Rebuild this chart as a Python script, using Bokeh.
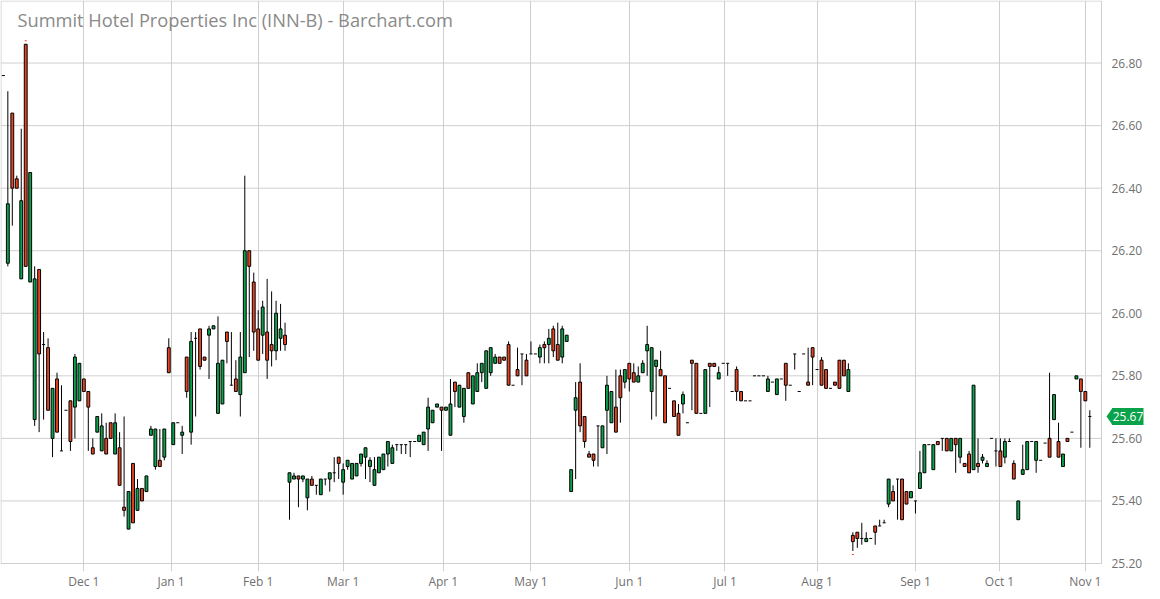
from bokeh.plotting import figure
from bokeh.models import Range1d, FixedTicker, CustomJSTickFormatter, Label, ColumnDataSource
from bokeh.core.properties import value
from bokeh.embed import file_html
from bokeh.resources import INLINE

title_text = "Summit Hotel Properties Inc (INN-B) - Barchart.com"

opens = [26.76, 26.16, 26.64, 26.43, 26.11, 26.86, 26.10, 25.66, 26.14, 25.90,
         25.89, 25.60, 25.79, 25.56, 25.69, 25.72, 25.70, 25.72, 25.79, 25.75,
         25.57, 25.62, 25.56, 25.60, 25.65, 25.55, 25.57, 25.38, 25.31, 25.52,
         25.37, 25.44, 25.43, 25.61, 25.51, 25.53, 25.54, 25.89, 25.58, 25.65,
         25.61, 25.86, 25.62, 25.92, 25.95, 25.86, 25.93, 25.95, 25.68, 25.71,
         25.94, 25.77, 25.79, 25.74, 25.81, 26.20, 26.10, 25.95, 25.93, 25.94,
         25.90, 25.88, 25.92, 25.93, 25.46, 25.47, 25.48, 25.47, 25.41, 25.47,
         25.45, 25.42, 25.47, 25.47, 25.49, 25.54, 25.46, 25.51, 25.47, 25.48,
         25.52, 25.54, 25.51, 25.45, 25.49, 25.50, 25.55, 25.52, 25.58, 25.58,
         25.58, 25.59, 25.59, 25.59, 25.58, 25.63, 25.65, 25.70, 25.70, 25.69,
         25.61, 25.78, 25.70, 25.67, 25.81, 25.71, 25.75, 25.81, 25.76, 25.81,
         25.84, 25.86, 25.86, 25.90, 25.77, 25.82, 25.87, 25.85, 25.87, 25.87,
         25.86, 25.90, 25.90, 25.95, 25.90, 25.86, 25.91, 25.43, 25.69, 25.78,
         25.67, 25.55, 25.55, 25.64, 25.57, 25.69, 25.65, 25.70, 25.80, 25.78,
         25.84, 25.81, 25.78, 25.81, 25.88, 25.75, 25.83, 25.82, 25.80, 25.76,
         25.72, 25.68, 25.71, 25.65, 25.85, 25.84, 25.68, 25.68, 25.84, 25.84,
         25.79, 25.84, 25.84, 25.75, 25.82, 25.75, 25.72, 25.72, 25.80, 25.80,
         25.80, 25.75, 25.78, 25.74, 25.79, 25.84, 25.77, 25.87, 25.75, 25.87,
         25.78, 25.89, 25.82, 25.85, 25.82, 25.76, 25.78, 25.85, 25.85, 25.75,
         25.29, 25.30, 25.28, 25.27, 25.28, 25.32, 25.32, 25.33, 25.39, 25.43,
         25.47, 25.47, 25.43, 25.41, 25.40, 25.44, 25.49, 25.58, 25.50, 25.59,
         25.60, 25.60, 25.56, 25.60, 25.54, 25.52, 25.55, 25.50, 25.52, 25.53,
         25.51, 25.60, 25.56, 25.56, 25.54, 25.59, 25.52, 25.34, 25.485, 25.50,
         25.59, 25.53, 25.53, 25.585, 25.60, 25.66, 25.59, 25.51, 25.60, 25.62,
         25.79, 25.79, 25.75, 25.67]

highs = [26.76, 26.71, 26.64, 26.44, 26.59, 26.86, 26.45, 26.15, 26.14, 25.94,
         25.92, 25.76, 25.81, 25.77, 25.69, 25.72, 25.87, 25.84, 25.79, 25.75,
         25.60, 25.67, 25.68, 25.65, 25.65, 25.68, 25.62, 25.67, 25.43, 25.52,
         25.47, 25.44, 25.48, 25.64, 25.63, 25.63, 25.63, 25.92, 25.65, 25.65,
         25.64, 25.86, 25.94, 25.94, 25.95, 25.86, 25.96, 25.96, 25.99, 25.85,
         25.94, 25.94, 25.85, 25.94, 26.44, 26.20, 26.13, 26.01, 26.04, 26.11,
         26.07, 26.04, 26.03, 25.97, 25.49, 25.49, 25.48, 25.48, 25.47, 25.48,
         25.45, 25.47, 25.47, 25.49, 25.54, 25.54, 25.52, 25.53, 25.52, 25.52,
         25.55, 25.57, 25.54, 25.54, 25.54, 25.55, 25.59, 25.58, 25.58, 25.58,
         25.58, 25.59, 25.59, 25.61, 25.62, 25.73, 25.69, 25.71, 25.70, 25.70,
         25.79, 25.78, 25.77, 25.76, 25.81, 25.80, 25.84, 25.84, 25.88, 25.89,
         25.87, 25.86, 25.86, 25.91, 25.77, 25.89, 25.87, 25.87, 25.91, 25.87,
         25.90, 25.91, 25.95, 25.96, 25.97, 25.96, 25.93, 25.50, 25.78, 25.84,
         25.67, 25.56, 25.55, 25.64, 25.64, 25.80, 25.75, 25.82, 25.82, 25.82,
         25.84, 25.84, 25.83, 25.85, 25.96, 25.89, 25.85, 25.88, 25.80, 25.76,
         25.72, 25.71, 25.75, 25.65, 25.85, 25.84, 25.68, 25.82, 25.84, 25.84,
         25.83, 25.84, 25.84, 25.75, 25.83, 25.75, 25.72, 25.72, 25.80, 25.80,
         25.80, 25.80, 25.78, 25.79, 25.79, 25.84, 25.77, 25.87, 25.75, 25.87,
         25.89, 25.89, 25.82, 25.86, 25.82, 25.76, 25.78, 25.85, 25.85, 25.84,
         25.30, 25.30, 25.33, 25.30, 25.28, 25.32, 25.34, 25.34, 25.47, 25.45,
         25.47, 25.47, 25.43, 25.43, 25.40, 25.56, 25.58, 25.58, 25.58, 25.59,
         25.60, 25.60, 25.60, 25.60, 25.60, 25.52, 25.56, 25.77, 25.60, 25.55,
         25.53, 25.60, 25.60, 25.60, 25.60, 25.60, 25.53, 25.40, 25.58, 25.59,
         25.59, 25.59, 25.53, 25.585, 25.81, 25.74, 25.65, 25.55, 25.60, 25.62,
         25.80, 25.79, 25.75, 25.69]

lows = [26.76, 26.15, 26.28, 26.40, 26.11, 26.15, 26.10, 25.64, 25.62, 25.66,
        25.69, 25.54, 25.62, 25.56, 25.69, 25.56, 25.60, 25.72, 25.75, 25.56,
        25.55, 25.62, 25.56, 25.55, 25.60, 25.55, 25.45, 25.35, 25.31, 25.33,
        25.37, 25.40, 25.43, 25.61, 25.50, 25.51, 25.53, 25.81, 25.58, 25.65,
        25.55, 25.73, 25.58, 25.67, 25.82, 25.85, 25.79, 25.95, 25.68, 25.71,
        25.84, 25.77, 25.75, 25.67, 25.81, 25.86, 25.88, 25.85, 25.87, 25.79,
        25.83, 25.85, 25.88, 25.88, 25.34, 25.47, 25.38, 25.46, 25.37, 25.45,
        25.42, 25.42, 25.45, 25.43, 25.46, 25.47, 25.42, 25.50, 25.47, 25.48,
        25.51, 25.47, 25.46, 25.45, 25.49, 25.50, 25.51, 25.52, 25.56, 25.55,
        25.55, 25.54, 25.59, 25.59, 25.58, 25.56, 25.65, 25.70, 25.56, 25.69,
        25.61, 25.70, 25.70, 25.65, 25.76, 25.71, 25.75, 25.78, 25.76, 25.80,
        25.84, 25.84, 25.85, 25.77, 25.77, 25.80, 25.77, 25.80, 25.87, 25.87,
        25.84, 25.84, 25.84, 25.86, 25.85, 25.84, 25.91, 25.43, 25.47, 25.62,
        25.57, 25.54, 25.51, 25.51, 25.57, 25.55, 25.65, 25.62, 25.65, 25.76,
        25.75, 25.78, 25.78, 25.81, 25.80, 25.66, 25.67, 25.80, 25.65, 25.76,
        25.67, 25.61, 25.68, 25.65, 25.69, 25.68, 25.68, 25.68, 25.70, 25.83,
        25.79, 25.84, 25.80, 25.75, 25.72, 25.72, 25.72, 25.72, 25.80, 25.80,
        25.80, 25.75, 25.78, 25.74, 25.79, 25.72, 25.77, 25.82, 25.75, 25.87,
        25.77, 25.77, 25.82, 25.77, 25.76, 25.76, 25.77, 25.76, 25.80, 25.75,
        25.24, 25.25, 25.26, 25.27, 25.28, 25.26, 25.32, 25.33, 25.38, 25.40,
        25.34, 25.34, 25.39, 25.41, 25.36, 25.44, 25.49, 25.58, 25.50, 25.58,
        25.56, 25.56, 25.56, 25.49, 25.52, 25.51, 25.49, 25.50, 25.49, 25.52,
        25.51, 25.60, 25.51, 25.51, 25.52, 25.59, 25.47, 25.34, 25.485, 25.50,
        25.59, 25.49, 25.53, 25.585, 25.54, 25.66, 25.54, 25.51, 25.59, 25.62,
        25.79, 25.57, 25.72, 25.57]

closes = [26.76, 26.35, 26.40, 26.40, 26.36, 26.15, 26.45, 26.11, 25.87, 25.90,
          25.69, 25.76, 25.62, 25.56, 25.69, 25.59, 25.86, 25.84, 25.75, 25.70,
          25.55, 25.67, 25.64, 25.55, 25.60, 25.65, 25.45, 25.37, 25.43, 25.33,
          25.44, 25.40, 25.48, 25.63, 25.63, 25.51, 25.63, 25.81, 25.65, 25.65,
          25.62, 25.75, 25.91, 25.92, 25.83, 25.85, 25.95, 25.96, 25.84, 25.85,
          25.91, 25.77, 25.75, 25.86, 26.20, 26.15, 25.94, 25.85, 26.02, 25.85,
          25.88, 26.00, 25.95, 25.90, 25.49, 25.48, 25.47, 25.48, 25.47, 25.45,
          25.45, 25.47, 25.47, 25.49, 25.49, 25.52, 25.50, 25.53, 25.52, 25.52,
          25.55, 25.57, 25.53, 25.50, 25.54, 25.55, 25.59, 25.57, 25.58, 25.58,
          25.58, 25.59, 25.59, 25.61, 25.62, 25.70, 25.69, 25.71, 25.69, 25.70,
          25.71, 25.75, 25.77, 25.76, 25.76, 25.80, 25.81, 25.84, 25.88, 25.89,
          25.86, 25.84, 25.85, 25.77, 25.77, 25.80, 25.87, 25.80, 25.87, 25.87,
          25.89, 25.89, 25.92, 25.88, 25.85, 25.95, 25.93, 25.50, 25.73, 25.64,
          25.59, 25.54, 25.53, 25.64, 25.64, 25.77, 25.75, 25.62, 25.73, 25.82,
          25.79, 25.78, 25.80, 25.84, 25.90, 25.89, 25.85, 25.80, 25.65, 25.76,
          25.67, 25.61, 25.74, 25.65, 25.84, 25.68, 25.68, 25.82, 25.83, 25.83,
          25.81, 25.84, 25.84, 25.75, 25.75, 25.72, 25.72, 25.72, 25.80, 25.80,
          25.80, 25.79, 25.78, 25.79, 25.79, 25.77, 25.77, 25.87, 25.75, 25.87,
          25.77, 25.86, 25.82, 25.77, 25.76, 25.76, 25.77, 25.76, 25.80, 25.82,
          25.27, 25.28, 25.28, 25.28, 25.28, 25.30, 25.32, 25.33, 25.47, 25.40,
          25.47, 25.34, 25.39, 25.43, 25.40, 25.49, 25.58, 25.58, 25.58, 25.58,
          25.60, 25.56, 25.60, 25.58, 25.60, 25.51, 25.49, 25.77, 25.51, 25.54,
          25.52, 25.60, 25.56, 25.51, 25.59, 25.59, 25.47, 25.40, 25.50, 25.59,
          25.59, 25.59, 25.53, 25.585, 25.54, 25.74, 25.54, 25.55, 25.59, 25.62,
          25.80, 25.75, 25.72, 25.67]

month_ticks = [18, 37.5, 57, 76, 98.4, 118, 140, 161.4, 182, 204, 222.8, 242]
month_labels = ["Dec 1", "Jan 1", "Feb 1", "Mar 1", "Apr 1", "May 1",
                "Jun 1", "Jul 1", "Aug 1", "Sep 1", "Oct 1", "Nov 1"]
price_ticks = [25.2, 25.4, 25.6, 25.8, 26.0, 26.2, 26.4, 26.6, 26.8]

GREEN = "#0ba34b"
RED = "#ea4320"
TAG_GREEN = "#0aa24a"
GRID = "#cfcfcf"
LABEL_COLOR = "#707070"
FONT = "Open Sans"

CHART_W, CHART_H = 1101, 563     # chart box in px
TICK_LEN = 8                     # month lines run this far below the box
FRAME_W, FRAME_H = 1146, CHART_H + TICK_LEN
PX_PER_BAR = 4.471
X_START = -0.64
X_CHART_END = X_START + CHART_W / PX_PER_BAR
X_END = X_START + FRAME_W / PX_PER_BAR
Y_BOX_LOW, Y_END = 25.2, 27.0
DY = (Y_END - Y_BOX_LOW) / CHART_H   # data units per pixel (y)
DX = 1.0 / PX_PER_BAR                # data units per pixel (x)
Y_START = Y_BOX_LOW - TICK_LEN * DY

n = len(closes)
idx = list(range(n))
highs = [max(h, o, c) for h, o, c in zip(highs, opens, closes)]
lows = [min(l, o, c) for l, o, c in zip(lows, opens, closes)]

body = dict(x=[], top=[], bottom=[], color=[])
doji = dict(x0=[], x1=[], y=[])
for i, o, c in zip(idx, opens, closes):
    if abs(c - o) < 1e-9:
        doji["x0"].append(i - 0.34)
        doji["x1"].append(i + 0.34)
        doji["y"].append(c)
    else:
        body["x"].append(i)
        body["top"].append(max(o, c))
        body["bottom"].append(min(o, c))
        body["color"].append(GREEN if c > o else RED)

p = figure(frame_width=FRAME_W, frame_height=FRAME_H,
           x_range=Range1d(X_START, X_END), y_range=Range1d(Y_START, Y_END),
           y_axis_location=None, output_backend="svg", toolbar_location=None,
           min_border_left=0, min_border_top=0, min_border_bottom=0, min_border_right=0,
           background_fill_color="white", border_fill_color="white")
p.outline_line_color = None

# vertical month lines (also act as ticks below the box)
p.xgrid.ticker = FixedTicker(ticks=month_ticks)
p.xgrid.grid_line_color = GRID
p.xgrid.grid_line_width = 1
p.ygrid.grid_line_color = None
# horizontal grid only across the chart box
p.segment(x0=[X_START] * len(price_ticks), x1=[X_CHART_END] * len(price_ticks),
          y0=price_ticks, y1=price_ticks, line_color=GRID, line_width=1)
# chart box border
p.quad(left=[X_START + 0.5 * DX], right=[X_CHART_END], top=[Y_END - 0.5 * DY],
       bottom=[Y_BOX_LOW], fill_color=None, line_color=GRID, line_width=1)

# x axis labels
xa = p.xaxis[0]
xa.ticker = FixedTicker(ticks=month_ticks)
xa.formatter = CustomJSTickFormatter(args=dict(pos=month_ticks, lab=month_labels), code="""
    for (let i = 0; i < pos.length; i++) { if (Math.abs(pos[i] - tick) < 1e-6) return lab[i]; }
    return "";
""")
xa.axis_line_color = None
xa.major_tick_in = 0
xa.major_tick_out = 0
xa.major_tick_line_color = None
xa.minor_tick_line_color = None
xa.major_label_standoff = 1
xa.major_label_text_font = FONT
xa.major_label_text_font_size = "12px"
xa.major_label_text_color = LABEL_COLOR

# price labels on the right
p.text(x=[X_CHART_END] * len(price_ticks), y=price_ticks,
       text=[f"{t:.2f}" for t in price_ticks], x_offset=10,
       text_font=value(FONT), text_font_size="12px", text_color=LABEL_COLOR,
       text_baseline="middle", text_align="left")

# candles
p.segment(x0=idx, y0=lows, x1=idx, y1=highs, line_color="black", line_width=1)
p.vbar(source=ColumnDataSource(body), x="x", top="top", bottom="bottom", width=0.64,
       fill_color="color", line_color="black", line_width=1)
p.segment(source=ColumnDataSource(doji), x0="x0", y0="y", x1="x1", y1="y",
          line_color="black", line_width=1)

# highest-high / lowest-low markers
i_hi = max(idx, key=lambda i: highs[i])
i_lo = min(idx, key=lambda i: lows[i])
p.rect(x=[i_hi, i_lo], y=[highs[i_hi] + 3.5 * DY, lows[i_lo] - 3.5 * DY],
       width=0.45, height=DY, fill_color=RED, line_color=None)

# title inside the plot area
p.add_layout(Label(x=X_START, y=Y_END, x_offset=17, y_offset=-19, text=title_text,
                   text_font=FONT, text_font_size="18.25px", text_color="#8a8a8a",
                   text_baseline="middle", text_align="left"))

# last price tag (arrow + box + text)
last = closes[-1]
p.patch(x=[X_CHART_END + 5 * DX, X_CHART_END + 11 * DX, X_CHART_END + 11 * DX],
        y=[last, last + 8.5 * DY, last - 8.5 * DY], fill_color=TAG_GREEN, line_color=None)
p.quad(left=[X_CHART_END + 10.5 * DX], right=[X_CHART_END + 42 * DX],
       top=[last + 8.5 * DY], bottom=[last - 8.5 * DY], fill_color=TAG_GREEN, line_color=None)
p.text(x=[X_CHART_END + 26.5 * DX], y=[last], text=[f"{last:.2f}"],
       text_font=value(FONT), text_font_size="12px", text_color="white",
       text_baseline="middle", text_align="center")

open("out.html", "w").write(file_html(p, INLINE))
